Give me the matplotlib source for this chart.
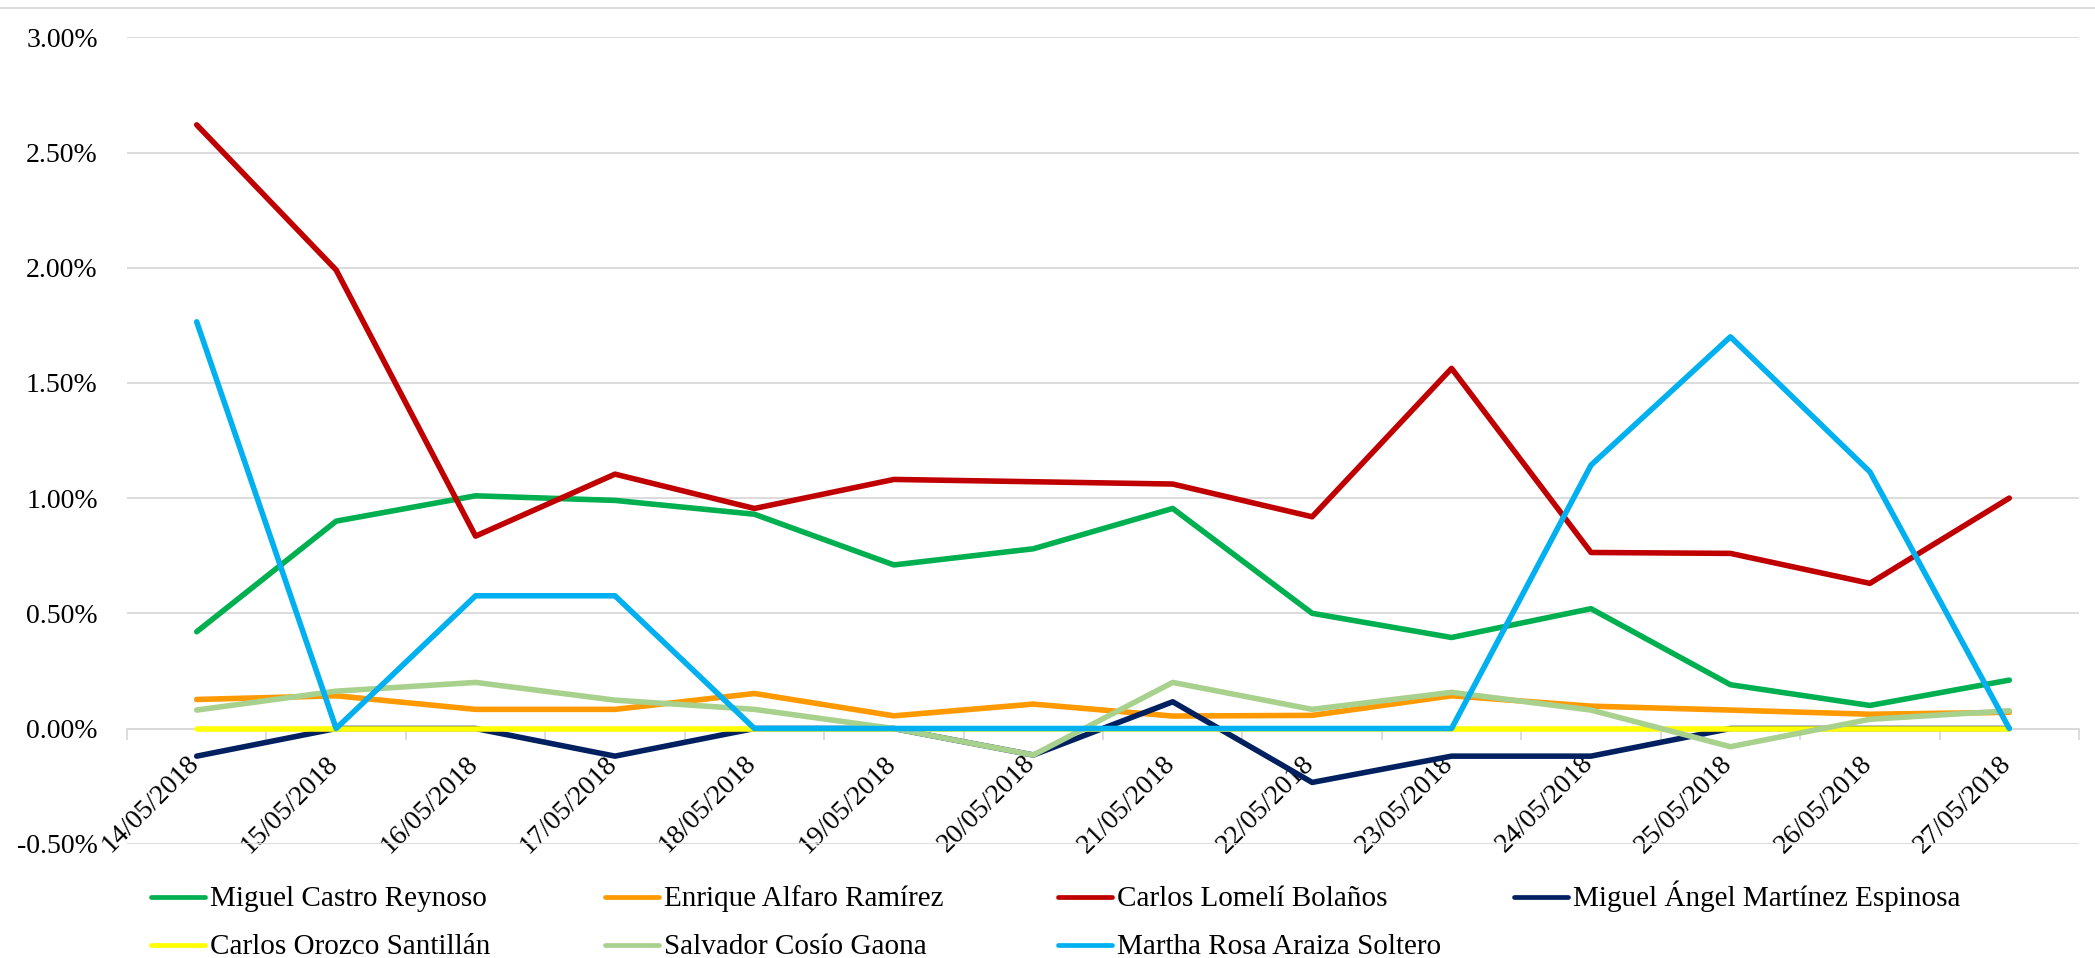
import numpy as np
import matplotlib
matplotlib.use("Agg")
import matplotlib.pyplot as plt
from matplotlib.ticker import FuncFormatter
from matplotlib.transforms import ScaledTranslation

plt.rcParams["font.family"] = ["Liberation Serif", "DejaVu Serif"]

# datos (porcentajes)
fechas = ["14/05/2018", "15/05/2018", "16/05/2018", "17/05/2018", "18/05/2018",
          "19/05/2018", "20/05/2018", "21/05/2018", "22/05/2018", "23/05/2018",
          "24/05/2018", "25/05/2018", "26/05/2018", "27/05/2018"]

castro = [0.42, 0.90, 1.01, 0.99, 0.93, 0.71, 0.78, 0.955, 0.50, 0.395, 0.52, 0.19, 0.10, 0.21]
alfaro = [0.126, 0.142, 0.083, 0.083, 0.152, 0.055, 0.106, 0.054, 0.057, 0.142, 0.097, 0.08, 0.062, 0.07]
lomeli = [2.62, 1.99, 0.835, 1.104, 0.955, 1.081, 1.071, 1.061, 0.919, 1.563, 0.764, 0.76, 0.63, 1.0]
martinez = [-0.12, 0.0, 0.0, -0.12, 0.0, 0.0, -0.115, 0.116, -0.234, -0.12, -0.12, 0.0, 0.0, 0.0]
orozco = [0.0] * 14
cosio = [0.08, 0.162, 0.20, 0.123, 0.083, 0.0, -0.115, 0.20, 0.083, 0.157, 0.08, -0.079, 0.04, 0.077]
araiza = [1.765, 0.0, 0.576, 0.576, 0.0, 0.0, 0.0, 0.0, 0.0, 0.0, 1.143, 1.70, 1.114, 0.0]

nombres = ["Miguel Castro Reynoso", "Enrique Alfaro Ramírez", "Carlos Lomelí Bolaños",
           "Miguel Ángel Martínez Espinosa", "Carlos Orozco Santillán",
           "Salvador Cosío Gaona", "Martha Rosa Araiza Soltero"]
series = [castro, alfaro, lomeli, martinez, orozco, cosio, araiza]
colores = ["#00B050", "#FF9900", "#C00000", "#002060", "#FFFF00", "#A9D18E", "#00B0F0"]

W, H = 2095, 958
fig = plt.figure(figsize=(W / 100, H / 100), dpi=100)
ax = fig.add_axes([127 / W, 1 - 843.7 / H, (2079 - 127) / W, (843.7 - 37.3) / H])

x = np.arange(len(fechas))
lineas = []
for nom, vals, col in zip(nombres, series, colores):
    l, = ax.plot(x, vals, color=col, lw=4.0, solid_joinstyle="round",
                 solid_capstyle="round", label=nom, zorder=3)
    lineas.append(l)

ax.set_xlim(-0.5, len(fechas) - 0.5)
ax.set_ylim(-0.5, 3.0)
ax.set_yticks(np.arange(-0.5, 3.01, 0.5))
ax.yaxis.set_major_formatter(FuncFormatter(lambda v, p: f"{v:.2f}%"))
ax.grid(axis="y", color="#D9D9D9", lw=1.3)
ax.set_axisbelow(True)

for s in ["top", "right", "left"]:
    ax.spines[s].set_visible(False)
ax.spines["bottom"].set_position(("data", 0))
ax.spines["bottom"].set_color("#D9D9D9")
ax.spines["bottom"].set_linewidth(1.3)

ax.set_xticks(x)
ax.set_xticklabels(fechas, rotation=45, ha="right", va="top")
ax.set_xticks(np.arange(-0.5, len(fechas), 1), minor=True)
ax.tick_params(axis="x", which="major", length=0, pad=14, labelsize=20)
ax.tick_params(axis="x", which="minor", length=8, width=1.3, color="#D9D9D9")
ax.tick_params(axis="y", length=0, pad=21, labelsize=20)
desplaza = ScaledTranslation(7 / 100, -3 / 100, fig.dpi_scale_trans)
for t in ax.get_xticklabels():
    t.set_transform(t.get_transform() + desplaza)

# borde superior del área del gráfico
fig.add_artist(plt.Line2D([0, 1], [1 - 8 / H, 1 - 8 / H], color="#D9D9D9", lw=1.3))

# leyenda: 4 columnas de ancho fijo, 2 filas
col_x = [151, 605, 1058, 1514]
fila_y = [897, 945]
for i, l in enumerate(lineas):
    cx = col_x[i % 4]
    fy = fila_y[i // 4]
    fig.add_artist(plt.Line2D([cx / W, (cx + 54) / W], [1 - fy / H, 1 - fy / H],
                              color=l.get_color(), lw=3.4, solid_capstyle="round"))
    fig.text((cx + 59) / W, 1 - (fy + 9.5) / H, nombres[i], fontsize=21,
             ha="left", va="baseline")

fig.savefig("out.png", dpi=100)
